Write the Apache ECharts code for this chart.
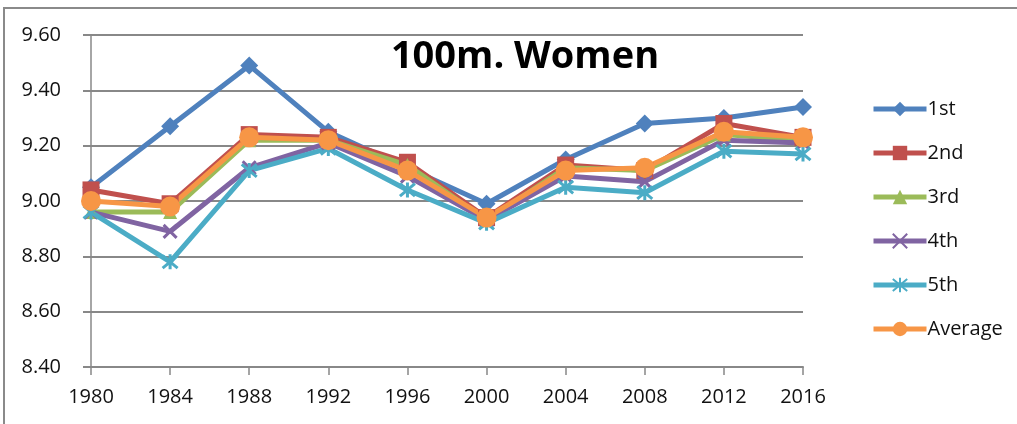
<!DOCTYPE html>
<html><head><meta charset="utf-8">
<script src="https://cdn.jsdelivr.net/npm/echarts@6/dist/echarts.min.js"></script>
<style>html,body{margin:0;padding:0;background:#fff}#c{width:1017px;height:424px}</style>
</head><body><div id="c"></div>
<script>
const years = ['1980','1984','1988','1992','1996','2000','2004','2008','2012','2016'];
const first   = [9.05, 9.27, 9.49, 9.25, 9.12, 8.99, 9.15, 9.28, 9.30, 9.34];
const second  = [9.04, 8.99, 9.24, 9.23, 9.14, 8.94, 9.13, 9.11, 9.28, 9.23];
const third   = [8.96, 8.96, 9.22, 9.22, 9.13, 8.93, 9.12, 9.11, 9.24, 9.22];
const fourth  = [8.96, 8.89, 9.12, 9.21, 9.09, 8.93, 9.09, 9.07, 9.22, 9.21];
const fifth   = [8.96, 8.78, 9.11, 9.19, 9.04, 8.92, 9.05, 9.03, 9.18, 9.17];
const average = [9.00, 8.98, 9.23, 9.22, 9.11, 8.94, 9.11, 9.12, 9.25, 9.23];
const yTicks = [8.4, 9.6, 0.2];

const font = '"Open Sans",sans-serif';
const chart = echarts.init(document.getElementById('c'), null, {renderer:'canvas'});
const X = 'path://M0,0L10,10M10,0L0,10';
const AST = 'path://M0,0L10,10M10,0L0,10M5,-1L5,11';
function s(name, data, color, symbol, size, stroke) {
  return {
    name, type:'line', data, symbol, symbolSize:size, showSymbol:true,
    lineStyle:{color, width:5},
    itemStyle: stroke ? {color:'rgba(0,0,0,0)', borderColor:color, borderWidth:3} : {color, borderColor:color, borderWidth:0},
    emphasis:{disabled:true}, animation:false
  };
}
chart.setOption({
  animation:false,
  graphic:[{type:'rect', shape:{x:4, y:8, width:1100, height:500}, style:{fill:'none', stroke:'#8a8a8a', lineWidth:2}, silent:true, z:-1}],
  title:{text:'100m. Women', left:520, top:33, textAlign:'center',
    textStyle:{fontFamily:'"Open Sans",sans-serif', fontWeight:'bold', fontSize:38, color:'#000'}},
  grid:{left:91, right:214, top:35, bottom:57},
  legend:{orient:'vertical', left:866, top:94, itemWidth:53, itemHeight:18, itemGap:24,
    lineStyle:{width:5},
    textStyle:{fontFamily:font, fontSize:20, lineHeight:16, color:'#111', padding:[0,0,0,-4]},
    data:['1st','2nd','3rd','4th','5th','Average']},
  xAxis:{type:'category', data:years, boundaryGap:false,
    axisLine:{lineStyle:{color:'#888', width:2}},
    axisTick:{show:true, length:8, alignWithLabel:true, lineStyle:{color:'#888', width:1.5}},
    axisLabel:{fontFamily:font, fontSize:20, color:'#111', margin:20},
    splitLine:{show:false}},
  yAxis:{type:'value', min:yTicks[0], max:yTicks[1], interval:yTicks[2],
    axisLine:{show:true, lineStyle:{color:'#888', width:1.5}},
    axisTick:{show:true, length:8, lineStyle:{color:'#888', width:2}},
    axisLabel:{fontFamily:font, fontSize:20, color:'#111', margin:30, formatter:v=>v.toFixed(2)},
    splitLine:{lineStyle:{color:'#888', width:2}}},
  series:[
    s('1st', first, '#4F81BD', 'diamond', 18),
    s('2nd', second, '#C0504D', 'rect', 17),
    s('3rd', third, '#9BBB59', 'triangle', 14),
    s('4th', fourth, '#8064A2', X, 13, true),
    s('5th', fifth, '#4BACC6', AST, 15, true),
    s('Average', average, '#F79646', 'circle', 20)
  ]
});
</script></body></html>
